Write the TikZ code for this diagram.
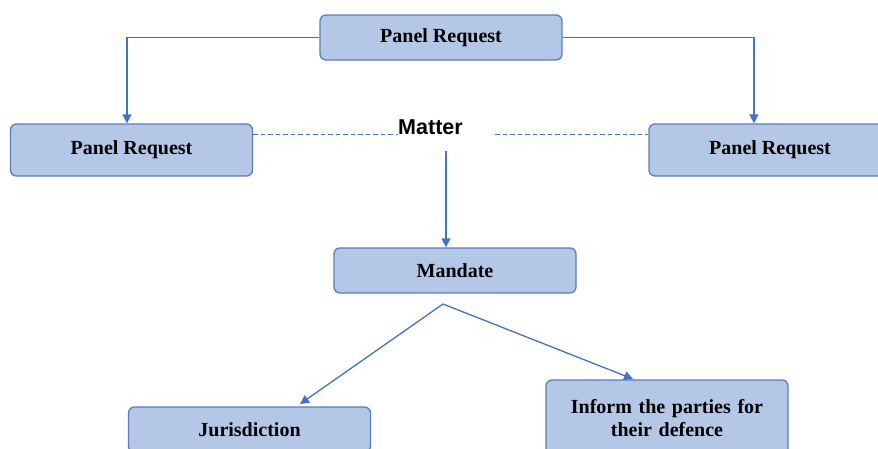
\documentclass[tikz,border=0pt]{standalone}
\usepackage{fontspec}
\setmainfont{Liberation Serif}
\setsansfont{Liberation Sans}
\usetikzlibrary{arrows.meta, positioning}

\definecolor{boxfill}{HTML}{B4C7E7}
\definecolor{boxline}{HTML}{5B7DB8}
\definecolor{linkblue}{HTML}{4472C4}

\tikzset{
    stagebox/.style={draw=boxline, line width=1.3pt, fill=boxfill, rounded corners=6pt,
        minimum width=242pt, minimum height=45pt, align=center, inner sep=2pt,
        font=\fontsize{20}{23}\selectfont\bfseries},
    link/.style={draw=linkblue, line width=1.3pt, -{Triangle[length=9pt,width=9pt]}},
    tie/.style={draw=linkblue, line width=1pt, dash pattern=on 4.5pt off 3pt}
}

\begin{document}
\begin{tikzpicture}[x=1pt, y=-1pt]
        \clip (0,0) rectangle (878,448);
        \useasboundingbox (0,0) rectangle (878,448);
        \node[stagebox] (top) at (441,37.5) {Panel Request};
        \node[stagebox, minimum height=52pt] (left) at (131.5,150) {Panel Request};
        \node[stagebox, minimum height=52pt] (right) at (770,150) {Panel Request};
        \node[font=\sffamily\bfseries\fontsize{21.5}{24}\selectfont, inner sep=0pt, anchor=base] (matter) at (430.5,134) {Matter};
        \node[stagebox] (mandate) at (455,270.5) {Mandate};
        \node[stagebox] (jur) at (249.5,429.5) {Jurisdiction};
        \node[stagebox, minimum height=77pt, text width=236pt] (inform) at (667,418.5) {Inform the parties for\\their defence};
        \coordinate (lbend) at (127,37.5);
        \coordinate (rbend) at (754,37.5);
        \coordinate (mtop) at (446,151);
        \coordinate (apex) at (443,304);
        \coordinate (ldash) at (398,134);
        \coordinate (rdash) at (495,134);
        \draw[link] (top.west) -- (lbend) -- (lbend |- left.north);
        \draw[link] (top.east) -- (rbend) -- (rbend |- right.north);
        \draw[tie] (left.east |- ldash) -- (ldash);
        \draw[tie] (rdash) -- (right.west |- rdash);
        \draw[link] (mtop) -- (mtop |- mandate.north);
        \draw[link] (apex) -- (300,404);
        \draw[link] (apex) -- (633,379);
    \end{tikzpicture}
\end{document}
